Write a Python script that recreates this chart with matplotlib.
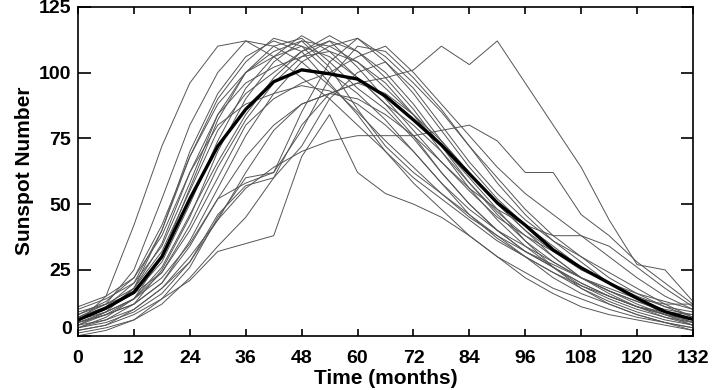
import matplotlib
matplotlib.use("Agg")
import matplotlib.pyplot as plt
import numpy as np

plt.rcParams['font.family'] = ['Liberation Sans', 'DejaVu Sans']
plt.rcParams['font.weight'] = 'bold'

# months sampled every 6 months
months = list(range(0, 133, 6))

mean_cycle = [6, 10.5, 16.5, 30, 52, 72, 86, 96.5, 101, 99.5, 97.5, 91, 82,
              72.5, 61.5, 50.5, 42, 32.6, 25.8, 20, 14.2, 9.1, 6.2]

cycles = [
    [5, 15, 42, 72, 96, 110, 112, 106, 98, 90, 80, 70, 60, 52, 44, 36, 30, 24, 19, 15, 11, 8, 6],
    [8, 12, 25, 52, 80, 100, 112, 110, 104, 95, 85, 74, 64, 54, 45, 38, 32, 27, 22, 17, 13, 10, 8],
    [4, 9, 18, 40, 68, 90, 104, 113, 110, 100, 92, 82, 70, 58, 46, 37, 30, 24, 18, 13, 9, 6, 4],
    [10, 14, 20, 34, 58, 84, 100, 110, 113, 104, 94, 86, 75, 62, 50, 40, 32, 26, 20, 15, 11, 9, 8],
    [6, 10, 16, 28, 50, 74, 94, 106, 114, 108, 98, 88, 80, 70, 58, 47, 38, 30, 22, 17, 12, 8, 5],
    [3, 6, 12, 25, 45, 70, 90, 104, 112, 110, 104, 94, 84, 72, 60, 48, 36, 26, 18, 12, 8, 5, 3],
    [7, 12, 18, 32, 55, 78, 92, 100, 108, 112, 102, 90, 78, 66, 55, 45, 38, 32, 26, 20, 15, 11, 9],
    [5, 8, 14, 26, 46, 66, 84, 98, 108, 114, 108, 98, 86, 72, 58, 46, 36, 28, 22, 17, 13, 9, 6],
    [0, 2, 6, 14, 21, 32, 35, 38, 68, 84, 62, 54, 50, 45, 38, 30, 22, 16, 11, 8, 6, 4, 2],
    [4, 8, 12, 20, 36, 56, 76, 92, 104, 110, 113, 104, 92, 78, 64, 52, 42, 34, 26, 20, 14, 9, 5],
    [2, 4, 8, 14, 26, 45, 60, 62, 85, 104, 113, 106, 96, 85, 72, 58, 46, 36, 28, 20, 14, 8, 4],
    [6, 9, 14, 22, 35, 52, 58, 62, 78, 98, 110, 108, 98, 86, 72, 60, 48, 38, 30, 22, 16, 11, 7],
    [9, 12, 16, 24, 40, 60, 80, 90, 96, 100, 106, 110, 100, 88, 76, 64, 54, 46, 38, 30, 22, 15, 10],
    [3, 5, 9, 16, 28, 44, 62, 78, 88, 92, 96, 98, 101, 110, 103, 112, 96, 80, 64, 44, 27, 25, 13],
    [4, 6, 10, 18, 30, 44, 56, 64, 70, 74, 76, 76, 76, 78, 80, 74, 62, 62, 46, 38, 28, 20, 12],
    [5, 8, 12, 20, 34, 52, 68, 80, 88, 92, 90, 84, 76, 66, 56, 48, 42, 38, 38, 34, 26, 18, 11],
    [11, 15, 22, 38, 62, 80, 88, 92, 95, 93, 88, 80, 70, 58, 48, 40, 34, 28, 22, 18, 14, 12, 12],
    [2, 4, 10, 18, 28, 46, 57, 60, 72, 90, 100, 104, 94, 80, 66, 54, 44, 36, 30, 24, 18, 12, 7],
    [6, 10, 18, 35, 62, 84, 96, 102, 106, 108, 104, 96, 84, 70, 56, 44, 34, 26, 19, 14, 10, 7, 5],
    [7, 11, 20, 40, 70, 92, 106, 112, 108, 96, 84, 70, 58, 48, 38, 30, 24, 18, 14, 10, 7, 5, 3],
    [5, 9, 14, 24, 42, 64, 82, 96, 106, 112, 108, 100, 88, 74, 62, 50, 40, 32, 25, 20, 16, 13, 10],
    [3, 7, 14, 30, 56, 82, 100, 108, 112, 102, 86, 72, 62, 54, 46, 38, 30, 22, 16, 12, 8, 5, 2],
    [1, 3, 6, 12, 22, 34, 45, 60, 80, 92, 96, 92, 84, 74, 62, 50, 40, 30, 22, 16, 11, 7, 4],
    [8, 13, 22, 42, 68, 88, 100, 106, 110, 106, 98, 88, 76, 62, 50, 40, 32, 26, 20, 15, 11, 8, 6],
]

x_ticks = list(range(0, 133, 12))
y_ticks = [0, 25, 50, 75, 100, 125]

fig = plt.figure(figsize=(7.13, 3.9), dpi=100)
ax = fig.add_axes([78/713, 1-335.7/390, (693-78)/713, (335.7-6.7)/390])

for c in cycles:
    ax.plot(months, c, color='#555555', lw=0.7)
ax.plot(months, mean_cycle, color='black', lw=2.4)

ax.set_xlim(0, 132)
ax.set_ylim(0, 125)
ax.set_xticks(x_ticks)
ax.set_yticks(y_ticks)
ax.set_yticklabels([''] + [str(v) for v in y_ticks[1:]])
ax.tick_params(axis='both', direction='in', top=True, right=True, labelsize=14, width=1.2)
ax.tick_params(axis='x', length=5, pad=10)
ax.tick_params(axis='y', length=9, pad=5)
for s in ax.spines.values():
    s.set_linewidth(1.2)
for lab in ax.get_xticklabels() + ax.get_yticklabels():
    lab.set_fontweight('bold')

ax.annotate('0', xy=(0, 0), xycoords=('axes fraction', 'data'), xytext=(-6, 6),
            textcoords='offset pixels', ha='right', va='center', fontsize=14, fontweight='bold')

ax.set_xlabel('Time (months)', fontsize=15, fontweight='bold', labelpad=2)
ax.set_ylabel('Sunspot Number', fontsize=15, fontweight='bold', labelpad=3)

fig.savefig('out.png', dpi=100)
